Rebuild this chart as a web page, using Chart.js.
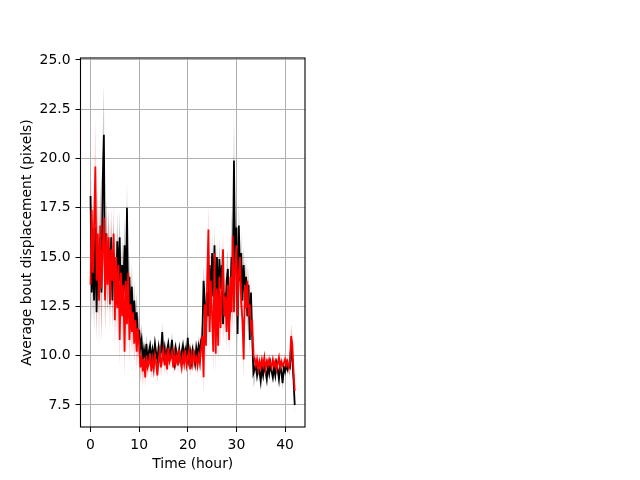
<!DOCTYPE html>
<html>
<head>
<meta charset="utf-8">
<script src="https://cdn.jsdelivr.net/npm/chart.js@4"></script>
<style>
  html, body { margin: 0; padding: 0; background: #fff; }
  #box { width: 640px; height: 480px; }
</style>
</head>
<body>
<div id="box"><canvas id="chart"></canvas></div>
<script>
// samples every quarter hour, 0 .. 42 h
const step = 0.25;

// black series (bout displacement, px)
const blackVals = [
  18.1, 13.2, 14.8, 12.8,  16.5, 12.2, 15.6, 13.5,  16.0, 13.2, 18.8, 21.2,
  13.0, 16.2, 14.0, 15.5,  13.6, 16.0, 12.8, 15.2,  14.2, 12.6, 15.8, 13.8,
  16.0, 12.4, 14.6, 13.2,  15.6, 12.8, 17.5, 12.2,  14.0, 11.8, 13.5, 11.5,
  12.8, 11.2, 12.2, 10.8,  11.3, 10.4, 10.8, 9.8,   10.3, 9.9, 10.6, 9.7,
  10.2, 10.5, 9.8, 10.3,   9.9, 10.6, 10.1, 9.8,    10.4, 9.9, 10.2, 11.2,
  10.0, 10.4, 9.7, 10.3,   10.6, 9.9, 10.2, 10.8,   10.0, 9.6, 10.4, 10.1,
  9.8, 10.3, 9.6, 10.2,    10.5, 9.9, 10.3, 10.0,   10.9, 9.8, 10.2, 9.7,
  10.3, 10.0, 9.6, 10.4,   10.0, 10.5, 10.2, 10.8,  11.0, 13.8, 12.8, 11.5,
  13.2, 12.0, 14.6, 12.3,  15.2, 13.0, 15.6, 11.8,  15.0, 12.5, 14.9, 13.4,
  14.6, 11.6, 13.2, 12.0,  13.8, 14.4, 11.6, 12.8,  15.0, 13.6, 19.9, 14.2,
  16.5, 11.1, 16.6, 13.8,  15.2, 12.8, 14.6, 13.2,  14.0, 12.0, 13.6, 10.8,
  13.2, 11.0, 9.1, 9.3,    9.6, 9.0, 9.4, 9.2,      8.7, 9.4, 9.0, 9.5,
  9.2, 8.8, 9.5, 9.1,      9.6, 9.2, 8.9, 9.4,      9.0, 9.6, 9.3, 8.8,
  9.5, 9.2, 8.6, 9.4,      9.2, 9.6, 9.3, 9.5,      9.4, 10.5, 9.8, 8.8,
  7.5
];

// red series
const redVals = [
  13.6, 17.4, 14.2, 16.8,  19.6, 13.8, 16.2, 12.8,  16.6, 13.4, 15.4, 17.0,
  12.8, 16.2, 13.6, 16.0,  12.6, 15.4, 13.8, 16.2,  11.8, 15.0, 12.4, 14.6,
  10.8, 14.2, 12.0, 13.6,  10.2, 13.8, 11.6, 14.2,  10.8, 12.6, 11.2, 12.2,
  10.6, 11.8, 10.2, 11.4,  10.6, 9.4, 10.0, 9.2,    9.8, 8.9, 10.0, 9.4,
  9.6, 10.1, 9.2, 9.8,     9.3, 10.0, 9.6, 9.0,     9.8, 10.2, 9.4, 9.9,
  10.3, 9.5, 10.0, 9.3,    10.4, 9.7, 9.9, 10.2,    9.4, 10.1, 9.6, 10.0,
  9.5, 10.3, 9.8, 9.4,     10.0, 9.6, 10.3, 9.5,    9.8, 10.2, 9.3, 10.0,
  9.6, 10.3, 9.7, 9.9,     9.5, 10.0, 9.6, 10.4,    11.0, 8.9, 12.6, 10.5,
  14.0, 16.4, 11.2, 13.8,  12.0, 10.2, 15.2, 10.1,  13.4, 10.5, 14.0, 11.4,
  13.2, 15.4, 12.0, 13.0,  11.2, 13.6, 10.8, 14.0,  12.2, 16.1, 12.2, 14.6,
  15.6, 12.0, 14.2, 15.0,  12.6, 11.8, 9.8, 13.6,   12.4, 13.8, 12.0, 12.6,
  11.4, 11.8, 10.0, 9.8,   9.5, 9.8, 9.3, 9.7,      9.4, 9.8, 9.5, 9.9,
  9.3, 9.7, 9.5, 9.8,      9.6, 9.4, 9.8, 9.5,      9.7, 9.3, 9.6, 9.9,
  9.4, 9.7, 9.5, 9.6,      9.8, 9.5, 9.7, 9.4,      9.6, 11.0, 10.6, 9.2,
  8.2
];

// half width of the shaded band, one value per hour (0 .. 42)
const blackSpread = [1.6, 1.5, 2.6, 1.8, 1.5, 1.5, 1.4, 1.5, 1.2, 1.0, 0.8, 0.5, 0.4, 0.4, 0.5,
  0.4, 0.4, 0.4, 0.4, 0.4, 0.5, 0.4, 0.5, 0.8, 1.0, 1.0, 1.0, 1.0, 1.0, 2.4, 1.4, 1.0, 0.9,
  0.7, 0.3, 0.3, 0.3, 0.3, 0.3, 0.3, 0.3, 0.5, 0.5];
const redSpread = [1.8, 2.4, 2.2, 1.6, 1.5, 1.4, 1.4, 1.4, 1.2, 1.0, 0.8, 0.5, 0.4, 0.4, 0.5,
  0.4, 0.4, 0.4, 0.4, 0.4, 0.4, 0.4, 0.5, 0.9, 1.3, 1.0, 1.0, 1.0, 1.0, 1.4, 1.2, 1.0, 0.9,
  0.7, 0.4, 0.3, 0.3, 0.3, 0.3, 0.3, 0.3, 0.6, 0.5];

const xTicks = [0, 10, 20, 30, 40];
const yTicks = [7.5, 10.0, 12.5, 15.0, 17.5, 20.0, 22.5, 25.0];

const pts = vals => vals.map((v, i) => ({ x: i * step, y: v }));
const band = (vals, spread, sign) =>
  vals.map((v, i) => ({ x: i * step, y: v + sign * spread[Math.min(Math.floor(i * step), spread.length - 1)] }));

const font = { family: "'DejaVu Sans', sans-serif", size: 13.9 };
Chart.defaults.font = font;
Chart.defaults.color = '#000';

// axes frame like matplotlib spines
const frame = {
  id: 'frame',
  afterDraw(chart) {
    const { ctx, chartArea: a } = chart;
    ctx.save();
    ctx.strokeStyle = '#000';
    ctx.lineWidth = 1.1;
    ctx.strokeRect(a.left, a.top, a.right - a.left, a.bottom - a.top);
    ctx.restore();
  }
};

const bandStyle = { pointRadius: 0, borderWidth: 0, tension: 0 };
const lineStyle = { pointRadius: 0, borderWidth: 1.8, tension: 0, fill: false };

// higher "order" is drawn first (underneath)
new Chart(document.getElementById('chart'), {
  type: 'line',
  data: {
    datasets: [
      { ...bandStyle, order: 5, data: band(blackVals, blackSpread, 1), fill: '+1', backgroundColor: 'rgba(0,0,0,0.2)' },
      { ...bandStyle, order: 5, data: band(blackVals, blackSpread, -1), fill: false },
      { ...bandStyle, order: 4, data: band(redVals, redSpread, 1), fill: '+1', backgroundColor: 'rgba(255,0,0,0.2)' },
      { ...bandStyle, order: 4, data: band(redVals, redSpread, -1), fill: false },
      { ...lineStyle, order: 2, data: pts(blackVals), borderColor: '#000' },
      { ...lineStyle, order: 1, data: pts(redVals), borderColor: '#ff0000' }
    ]
  },
  options: {
    responsive: true,
    maintainAspectRatio: false,
    animation: false,
    layout: { padding: { left: 0, top: 58, right: 335, bottom: 0 } },
    plugins: { legend: { display: false }, tooltip: { enabled: false } },
    scales: {
      x: {
        type: 'linear',
        min: -2.06,
        max: 44.11,
        afterBuildTicks: s => { s.ticks = xTicks.map(v => ({ value: v })); },
        afterFit: s => { s.height = 53; },
        ticks: { padding: 5, maxRotation: 0, callback: v => String(v) },
        grid: { color: '#b0b0b0', lineWidth: 1, tickColor: '#000', tickLength: 5 },
        border: { display: false },
        title: { display: true, text: 'Time (hour)', padding: { top: 0, bottom: 7 } }
      },
      y: {
        type: 'linear',
        min: 6.38,
        max: 25.1,
        afterBuildTicks: s => { s.ticks = yTicks.map(v => ({ value: v })); },
        afterFit: s => { s.width = 80.5; },
        ticks: { padding: 5, callback: v => v.toFixed(1) },
        grid: { color: '#b0b0b0', lineWidth: 1, tickColor: '#000', tickLength: 5 },
        border: { display: false },
        title: { display: true, text: 'Average bout displacement (pixels)', padding: { top: 19, bottom: 0 } }
      }
    }
  },
  plugins: [frame]
});
</script>
</body>
</html>
